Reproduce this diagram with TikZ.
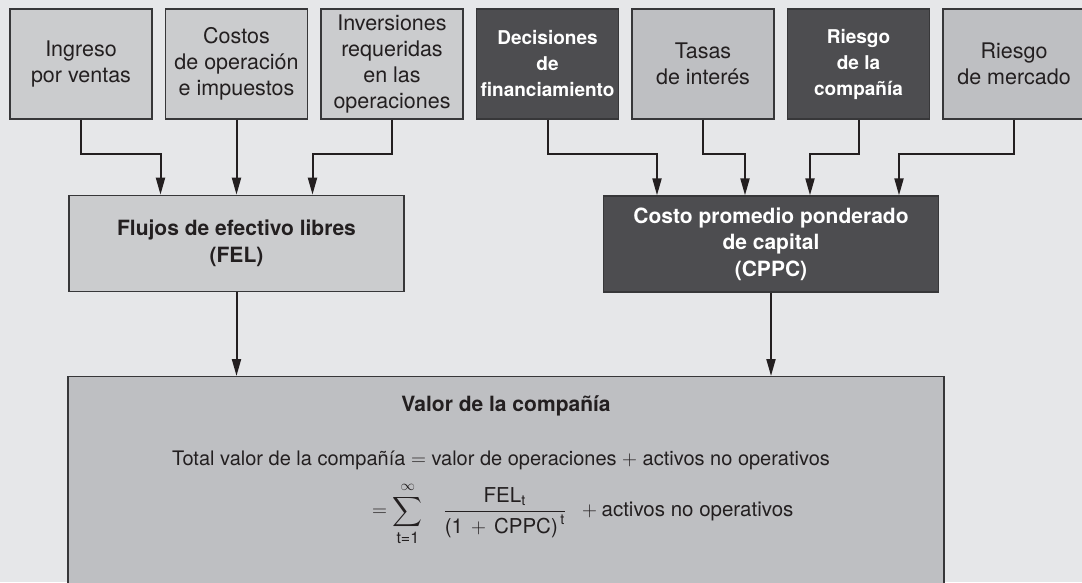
\documentclass[tikz,border=0pt]{standalone}
\usepackage{amsmath}
\usepackage{fontspec}
\setmainfont{TeX Gyre Heros}
\usepackage{tikz}
\usepackage{xcolor}
\definecolor{ValorBack}{RGB}{230,231,233}
\definecolor{ValorLight}{RGB}{203,204,206}
\definecolor{ValorMid}{RGB}{190,191,194}
\definecolor{ValorDark}{RGB}{77,77,80}
\definecolor{ValorEdge}{RGB}{55,55,57}
\definecolor{ValorInk}{RGB}{35,31,32}
\usetikzlibrary{arrows.meta, positioning}

\begin{document}
\begin{tikzpicture}[x=1pt, y=1pt,
        node distance=75pt and 12.2pt,
        factor/.style={rectangle, draw=ValorEdge, line width=1.3pt, fill=ValorLight, minimum width=142pt, minimum height=110pt, inner sep=0pt, align=center, text=ValorInk, font=\fontsize{21.5}{26}\selectfont},
        keyfactor/.style={factor, fill=ValorDark, text=white, font=\fontsize{19}{26}\selectfont\bfseries},
        summary/.style={rectangle, draw=ValorEdge, line width=1.3pt, fill=ValorLight, minimum width=335pt, minimum height=96pt, inner sep=0pt, align=center, text=ValorInk, font=\fontsize{21}{26.5}\selectfont\bfseries},
        arrow/.style={-{Triangle[length=17pt, width=9pt]}, line width=2pt, ValorInk}
    ]
        \useasboundingbox (0,0) rectangle (1082,-582);
        \clip (0,0) rectangle (1082,-582);
        \fill[ValorBack] (0,0) rectangle (1082,-582);

        % Nodes
        \node[factor] (ingreso) at (81,-64) {Ingreso\\por ventas};
        \node[factor, right=of ingreso] (costos) {Costos\\de operación\\e impuestos};
        \node[factor, right=of costos] (inversiones) {Inversiones\\requeridas\\en las\\operaciones};
        \node[keyfactor, right=of inversiones] (decisiones) {Decisiones\\de\\financiamiento};
        \node[factor, fill=ValorMid, right=of decisiones] (tasas) {Tasas\\de interés};
        \node[keyfactor, right=of tasas] (riesgo) {Riesgo\\de la\\compañía};
        \node[factor, fill=ValorMid, right=of riesgo] (mercado) {Riesgo\\de mercado};
        \node[summary, below=of costos] (flujos) {Flujos de efectivo libres\\(FEL)};
        \node[summary, fill=ValorDark, text=white] (cppc) at (771,-244) {Costo promedio ponderado\\de capital\\(CPPC)};
        \node[rectangle, draw=ValorEdge, line width=1.3pt, fill=ValorMid, minimum width=876pt, minimum height=230pt, anchor=north] (valor) at (506,-376) {};
        \node[text=ValorInk, font=\fontsize{21}{25}\selectfont\bfseries] (titulo) at ([yshift=-30pt]valor.north) {Valor de la compañía};
        \node[text=ValorInk, font=\fontsize{20}{24}\selectfont] (total) at (501,-460) {Total valor de la compañía $=$ valor de operaciones $+$ activos no operativos};
        \node[text=ValorInk, font=\fontsize{20.5}{24}\selectfont, anchor=west, inner sep=0pt] (formula) at (372,-514) {$\displaystyle =\sum_{\mbox{\fontsize{16}{16}\selectfont t=1}}^{\infty}\;\;\; \frac{\text{FEL}_{\text{t}}}{\text{(1}\,+\,\text{CPPC)}^{\,\text{t}}} \;\;+\text{activos no operativos}$};

        % Connections
        \draw[arrow] (ingreso.south) -- ++(0,-34.5) -| ([xshift=-76pt]flujos.north);
        \draw[arrow] (costos.south) -- (flujos.north);
        \draw[arrow] (inversiones.south) -- ++(0,-34.5) -| ([xshift=76pt]flujos.north);
        \draw[arrow] (decisiones.south) -- ++(0,-34.5) -| ([xshift=-114pt]cppc.north);
        \draw[arrow] (tasas.south) -- ++(0,-34.5) -| ([xshift=-26pt]cppc.north);
        \draw[arrow] (riesgo.south) -- ++(0,-34.5) -| ([xshift=39pt]cppc.north);
        \draw[arrow] (mercado.south) -- ++(0,-34.5) -| ([xshift=128pt]cppc.north);
        \draw[arrow] (flujos.south) -- (flujos.south |- valor.north);
        \draw[arrow] (cppc.south) -- (cppc.south |- valor.north);

    \end{tikzpicture}
\end{document}
